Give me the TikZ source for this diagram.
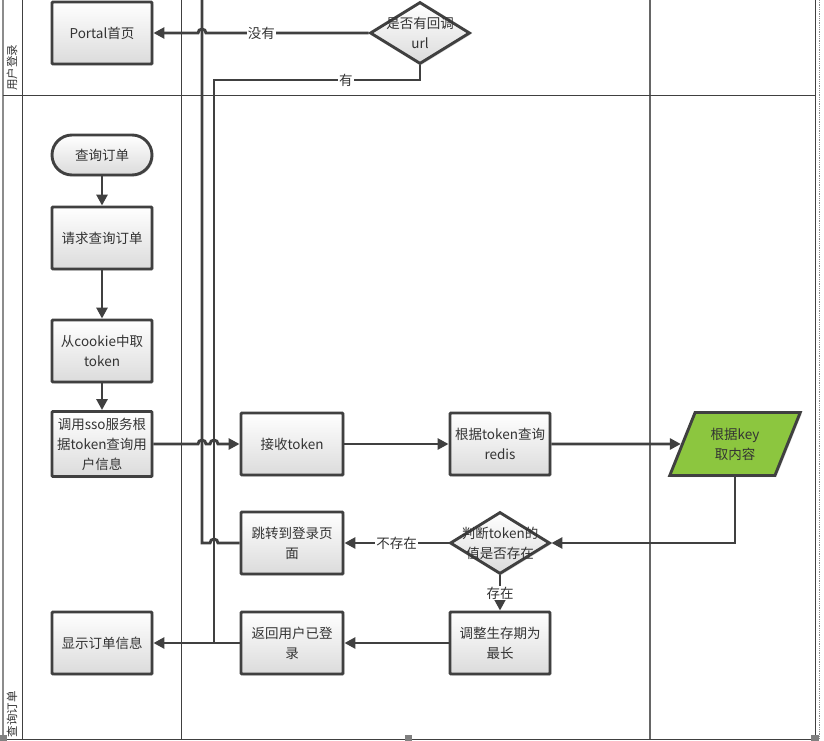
\documentclass[tikz,border=0pt]{standalone}
\usepackage{fontspec}
\setmainfont{Noto Sans CJK SC}
\usetikzlibrary{arrows.meta,shapes.geometric,calc,shadows}
\definecolor{ln}{HTML}{404040}
\definecolor{txt}{HTML}{333333}
\definecolor{keygreen}{HTML}{8CC63F}
\tikzset{
  lane/.style={draw=ln, line width=0.9pt},
  shad/.style={drop shadow={shadow xshift=1.5pt, shadow yshift=-1.5pt, fill=black!22}},
  box/.style={rectangle, draw=ln, line width=2.9pt, rounded corners=1pt,
    top color=white, bottom color=black!14, minimum width=100pt, minimum height=62pt,
    align=center, text=txt, font=\fontsize{13.5}{20}\selectfont, inner sep=0pt, shad},
  term/.style={box, rounded corners=20pt, minimum height=40pt},
  decision/.style={diamond, draw=ln, line width=2.9pt, top color=white, bottom color=black!14,
    minimum width=100pt, minimum height=62pt, inner sep=0pt, shad},
  dtext/.style={align=center, text=txt, font=\fontsize{13.5}{20}\selectfont, inner sep=0pt},
  keyshape/.style={trapezium, trapezium left angle=64.5, trapezium right angle=115.5,
    trapezium stretches=true, draw=ln, line width=2.9pt, fill=keygreen,
    minimum width=131pt, minimum height=63pt, align=center, text=txt,
    font=\fontsize{13.5}{20}\selectfont, inner sep=0pt, shad},
  conn/.style={draw=ln, line width=2.9pt, -{Triangle[length=11pt,width=11pt]}},
  wire/.style={draw=ln, line width=2.9pt},
  lbl/.style={fill=white, inner sep=1pt, text=txt, font=\fontsize{13.5}{15}\selectfont},
  lanelbl/.style={rotate=90, text=txt, font=\fontsize{11.5}{13}\selectfont, inner sep=0pt},
  handle/.style={fill=black!50, draw=none}
}
\begin{document}
\begin{tikzpicture}[x=1pt,y=-1pt]
\useasboundingbox (0,0) rectangle (824,741);
% swimlane frame
\draw[draw=black!45, line width=1.6pt] (3,0) -- (3,739);
\draw[lane] (22,0) -- (22,739);
\draw[lane] (181,0) -- (181,739);
\draw[lane, line width=1.2pt, draw=black!60] (650,0) -- (650,739);
\draw[lane] (815,0) -- (815,739);
\draw[black!45, densely dotted, line width=0.8pt] (819,0) -- (819,739);
\draw[lane] (3,95) -- (815,95);
\draw[lane] (3,739) -- (815,739);
\node[lanelbl] (lanea) at (12,68) {用户登录};
\node[lanelbl] (laneb) at (12,714) {查询订单};
\fill[handle] (0,735) rectangle (7,741);
\fill[handle] (405,735) rectangle (412,741);
\fill[handle] (811,735) rectangle (819,741);

% nodes
\node[box] (portal) at (102,33) {Portal首页};
\node[decision] (q1) at (420,33) {};
\node[dtext] (q1t) at (420,33) {是否有回调\\url};
\node[term] (start) at (102,155) {查询订单};
\node[box] (req) at (102,238) {请求查询订单};
\node[box] (cookie) at (102,351) {从cookie中取\\token};
\node[box, minimum height=65pt] (sso) at (102,444) {调用sso服务根\\据token查询用\\户信息};
\node[box, minimum width=102pt] (recv) at (292,444) {接收token};
\node[box] (redis) at (500,444) {根据token查询\\redis};
\node[keyshape] (key) at (735,444) {根据key\\取内容};
\node[decision] (q2) at (500,543) {};
\node[dtext] (q2t) at (500,543) {判断token的\\值是否存在};
\node[box, minimum width=102pt] (jump) at (292,543) {跳转到登录页\\面};
\node[box] (adj) at (500,643) {调整生存期为\\最长};
\node[box, minimum width=102pt] (back) at (292,643) {返回用户已登\\录};
\node[box] (show) at (102,643) {显示订单信息};

\coordinate (topA) at (202,0);
\coordinate (yesC) at (214,80);

% connectors
\draw[conn] (q1.west) -- node[lbl, pos=0.66] (lno) {没有} ($(topA |- q1.west)+(4,0)$)
  arc[start angle=0, end angle=-180, radius=4] -- (portal.east);
\draw[wire] (q1.south) -- (q1.south |- yesC) -- node[lbl, pos=0.36] (lyes) {有} (yesC) -- (yesC |- back.west);
\draw[wire] (jump.west) -- ($(yesC |- jump.west)+(4,0)$)
  arc[start angle=0, end angle=-180, radius=4] -- (topA |- jump.west) -- (topA);
\draw[conn] (start) -- (req);
\draw[conn] (req) -- (cookie);
\draw[conn] (cookie) -- (sso);
\draw[conn] (sso.east) -- ($(topA |- sso.east)+(-4,0)$)
  arc[start angle=180, end angle=360, radius=4] -- ($(yesC |- sso.east)+(-4,0)$)
  arc[start angle=180, end angle=360, radius=4] -- (recv.west);
\draw[conn] (recv) -- (redis);
\draw[conn] (redis.east) -- (key);
\draw[conn] (key.center |- key.south) |- (q2.east);
\draw[conn] (q2.west) -- node[lbl] (lno2) {不存在} (jump.east);
\draw[conn] (q2.south) -- node[lbl] (lyes2) {存在} (adj.north);
\draw[conn] (adj) -- (back);
\draw[conn] (back) -- (show);
\end{tikzpicture}
\end{document}
